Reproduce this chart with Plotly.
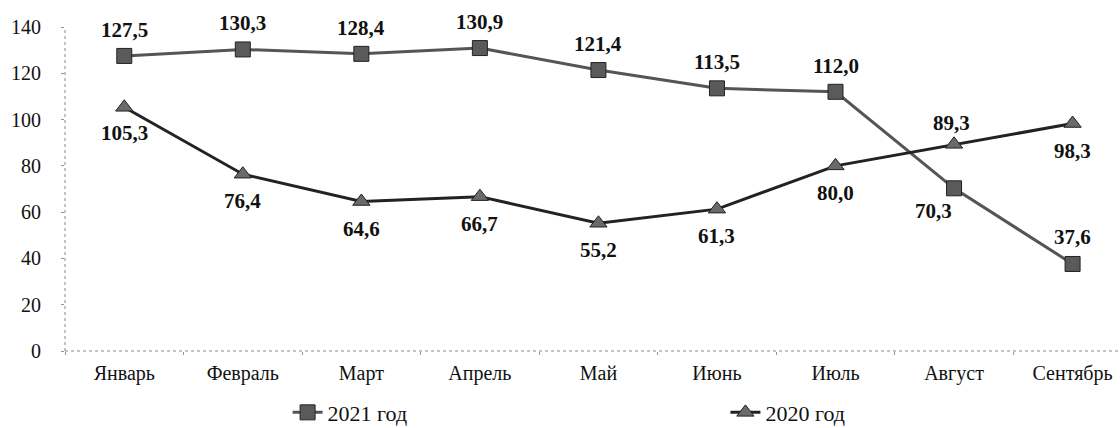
import plotly.graph_objects as go

months = ["Январь", "Февраль", "Март", "Апрель", "Май", "Июнь", "Июль", "Август", "Сентябрь"]
y2021 = [127.5, 130.3, 128.4, 130.9, 121.4, 113.5, 112.0, 70.3, 37.6]
y2020 = [105.3, 76.4, 64.6, 66.7, 55.2, 61.3, 80.0, 89.3, 98.3]
name2021 = "2021 год"
name2020 = "2020 год"
yticks = [0, 20, 40, 60, 80, 100, 120, 140]

# label offsets (style only)
off2021 = [(0, 26)] * 7 + [(-21, -23), (0, 27)]
off2020 = [(0, -26), (0, -27), (0, -27), (0, -27), (0, -27), (0, -27), (0, -27), (-3, 21), (0, -27)]

SERIF = "Liberation Serif, Times New Roman, serif"

fig = go.Figure()
fig.add_trace(go.Scatter(
    x=months, y=y2021, name=name2021, mode="lines+markers", legend="legend",
    line=dict(color="#555555", width=3),
    marker=dict(symbol="square", size=15, color="#5a5a5a", line=dict(color="#222222", width=1)),
))
fig.add_trace(go.Scatter(
    x=months, y=y2020, name=name2020, mode="lines+markers", legend="legend2",
    line=dict(color="#222222", width=3),
    marker=dict(symbol="triangle-up", size=15, color="#6a6a6a", line=dict(color="#222222", width=1)),
))

def fmt(v):
    return f"{v:.1f}".replace(".", ",")

for vals, offs in ((y2021, off2021), (y2020, off2020)):
    for m, v, (dx, dy) in zip(months, vals, offs):
        fig.add_annotation(x=m, y=v, text=f"<b>{fmt(v)}</b>", showarrow=False,
                           xshift=dx, yshift=dy,
                           font=dict(family=SERIF, size=21, color="#111111"))

# dotted axis lines
fig.add_shape(type="line", xref="paper", yref="paper", x0=0, x1=0, y0=0, y1=1,
              line=dict(color="#888888", width=1, dash="dot"))
fig.add_shape(type="line", xref="paper", yref="paper", x0=0, x1=1, y0=0, y1=0,
              line=dict(color="#888888", width=1, dash="dot"))

legfont = dict(family=SERIF, size=22, color="#111111")
fig.update_layout(
    width=1120, height=428,
    margin=dict(l=65, r=0, t=27, b=77, autoexpand=False),
    paper_bgcolor="white", plot_bgcolor="white",
    font=dict(family=SERIF, size=20, color="#111111"),
    showlegend=True,
    legend=dict(orientation="h", x=0.211, y=-0.19, xanchor="left", yanchor="middle",
                font=legfont, itemwidth=30, bgcolor="rgba(0,0,0,0)"),
    legend2=dict(orientation="h", x=0.626, y=-0.19, xanchor="left", yanchor="middle",
                 font=legfont, itemwidth=30, bgcolor="rgba(0,0,0,0)"),
)
fig.update_xaxes(type="category", range=[-0.5, 8.4], showgrid=False, showline=False,
                 zeroline=False, ticks="outside", tickson="boundaries", ticklen=3,
                 tickcolor="#999999", ticklabelstandoff=8, automargin=False,
                 tickfont=dict(family=SERIF, size=20, color="#111111"))
fig.update_yaxes(range=[0, 140], tickvals=yticks, showgrid=False, showline=False,
                 zeroline=False, ticks="outside", ticklen=3, tickcolor="#999999",
                 ticklabelstandoff=16, automargin=False,
                 tickfont=dict(family=SERIF, size=20, color="#111111"))

fig.write_html("out.html", config={"displayModeBar": False},
               post_script="document.body.style.margin='0';document.body.style.overflow='hidden';")
